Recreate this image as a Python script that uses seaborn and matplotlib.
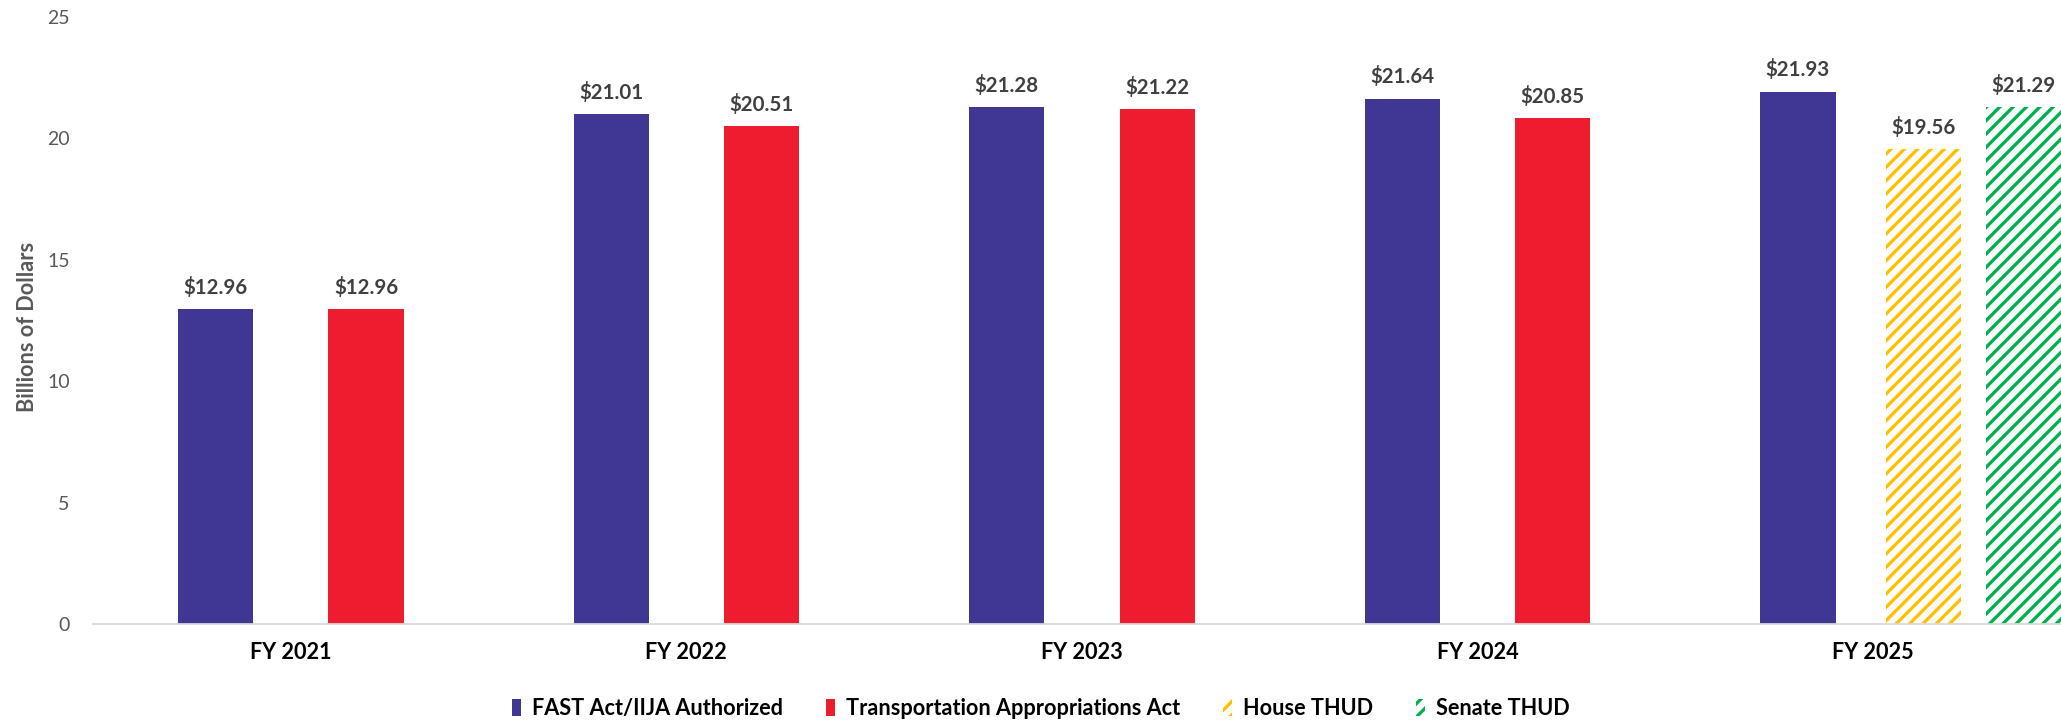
import numpy as np
import pandas as pd
import matplotlib
matplotlib.use("Agg")
import matplotlib.pyplot as plt
from matplotlib.patches import Patch
import seaborn as sns

# ---- data ----
years = ["FY 2021", "FY 2022", "FY 2023", "FY 2024", "FY 2025"]
authorized = [12.96, 21.01, 21.28, 21.64, 21.93]
appropriations = [12.96, 20.51, 21.22, 20.85]          # FY 2021 - FY 2024
house_thud = [19.56]                                     # FY 2025
senate_thud = [21.29]                                    # FY 2025
series_names = ["FAST Act/IIJA Authorized", "Transportation Appropriations Act",
                "House THUD", "Senate THUD"]
y_ticks = [0, 5, 10, 15, 20, 25]

# ---- style ----
sns.set_theme(style="white")
plt.rcParams["font.family"] = ["Lato", "DejaVu Sans"]
plt.rcParams["hatch.linewidth"] = 3.0

PURPLE = "#403694"
RED = "#ED1C2E"
YELLOW = "#FFC000"
GREEN = "#00B050"

DPI = 80
fig = plt.figure(figsize=(2061 / DPI, 723 / DPI), dpi=DPI)
ax = fig.add_axes([93 / 2061, (723 - 624) / 723, 1 - 93 / 2061, (624 - 17) / 723])

rows = []
for y, v in zip(years, authorized):
    rows.append({"year": y, "series": series_names[0], "value": v})
for y, v in zip(years[:len(appropriations)], appropriations):
    rows.append({"year": y, "series": series_names[1], "value": v})
df = pd.DataFrame(rows)

sns.barplot(data=df, x="year", y="value", hue="series", order=years,
            hue_order=series_names[:2], palette=[PURPLE, RED],
            width=0.76, gap=0.5, dodge=True, linewidth=0, ax=ax, legend=False,
            errorbar=None, saturation=1)

i25 = years.index("FY 2025")
hb = ax.bar([i25 + 0.128], house_thud, width=0.19, facecolor="white",
            edgecolor=YELLOW, hatch="//", linewidth=0)
sb = ax.bar([i25 + 0.38], senate_thud, width=0.19, facecolor="white",
            edgecolor=GREEN, hatch="//", linewidth=0)

label_kw = dict(fmt="${:.2f}", padding=10, fontsize=18.5, fontweight="bold",
                color="#404040")
for cont in ax.containers:
    ax.bar_label(cont, **label_kw)

ax.set_xlim(-0.5, 4.475)
ax.set_ylim(0, 25)
ax.set_yticks(y_ticks)
ax.set_yticklabels([str(t) for t in y_ticks])
ax.tick_params(axis="y", length=0, pad=21, labelsize=17.5, labelcolor="#595959")
ax.tick_params(axis="x", length=0, pad=16, labelsize=19.5)
for lbl in ax.get_xticklabels():
    lbl.set_fontweight("bold")
    lbl.set_color("black")
ax.set_xlabel("")
ax.set_ylabel("Billions of Dollars", fontsize=19.5, fontweight="bold", color="#595959")
ax.yaxis.set_label_coords(-0.028, 0.49)
ax.grid(False)
for s in ["top", "right", "left"]:
    ax.spines[s].set_visible(False)
ax.spines["bottom"].set_color("#d9d9d9")
ax.spines["bottom"].set_linewidth(1.6)

handles = [
    Patch(facecolor=PURPLE, edgecolor="none", label=series_names[0]),
    Patch(facecolor=RED, edgecolor="none", label=series_names[1]),
    Patch(facecolor="white", edgecolor=YELLOW, hatch="//", linewidth=0, label=series_names[2]),
    Patch(facecolor="white", edgecolor=GREEN, hatch="//", linewidth=0, label=series_names[3]),
]
leg = fig.legend(handles=handles, loc="center", bbox_to_anchor=(1041 / 2061, 0.02),
                 ncol=4, frameon=False, fontsize=19.5, handlelength=0.4,
                 handleheight=0.8, handletextpad=0.5, columnspacing=2.0)
for t in leg.get_texts():
    t.set_fontweight("bold")
    t.set_color("black")

fig.savefig("out.png", dpi=DPI)
